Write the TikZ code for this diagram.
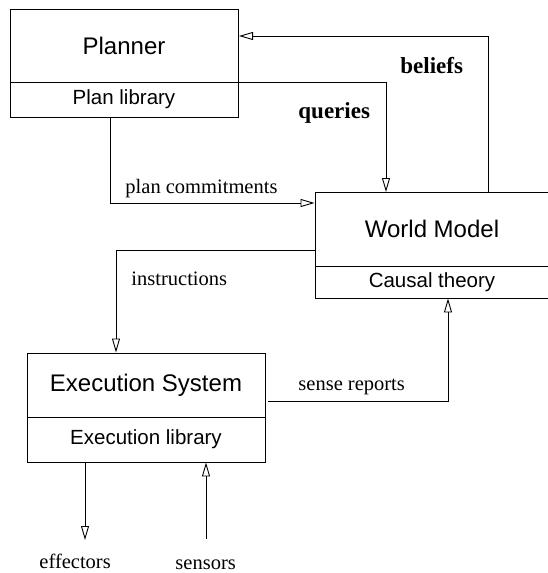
\documentclass[tikz,border=0pt]{standalone}
\usepackage{fontspec}
\setmainfont{Liberation Serif}
\setsansfont{Liberation Sans}
\usetikzlibrary{arrows.meta}
\begin{document}
\begin{tikzpicture}[x=1pt,y=-1pt,line width=0.9pt,
  part/.style={draw,rectangle,inner sep=0pt,font=\sffamily},
  head/.style={part,font=\sffamily\fontsize{24}{26}\selectfont},
  lib/.style={part,font=\sffamily\fontsize{20.5}{23}\selectfont},
  flow/.style={-{Triangle[open,length=14pt,width=8pt]}},
  lbl/.style={font=\fontsize{20.5}{23}\selectfont,inner sep=0pt},
  blbl/.style={font=\bfseries\fontsize{23}{26}\selectfont,inner sep=0pt}]
\useasboundingbox (0,0) rectangle (547,573);

% Planner
\node[head,minimum width=228pt,minimum height=73pt] (plan) at (124,45.5) {Planner};
\node[lib,minimum width=228pt,minimum height=35pt] (planlib) at (124,99.5) {Plan library};

% World model (runs past the right border)
\node[head,minimum width=234pt,minimum height=74pt] (wm) at (432,229) {World Model};
\node[lib,minimum width=234pt,minimum height=32pt] (wmlib) at (432,282) {Causal theory};

% Execution system
\node[head,minimum width=238pt,minimum height=64pt] (ex) at (146,385) {Execution System};
\node[lib,minimum width=238pt,minimum height=45pt] (exlib) at (146,439.5) {Execution library};

% Free ends
\coordinate (eff) at (85,540);
\coordinate (sen) at (206,539);

% Connectors
\draw[flow] (plan.south east) -| (386,192);
\draw[flow] (wm.north -| 488,0) |- (239,36);
\draw[flow] (planlib.south -| 110,0) |- (wm.west |- 0,203);
\draw[flow] (wm.west |- 0,250) -| (ex.north -| 116,0);
\draw[flow] (268,401) -| (wmlib.south -| 448,0);
\draw[flow] (exlib.south -| 85,0) -- (eff);
\draw[flow] (sen) -- (exlib.south -| 206,0);

% Labels
\node[blbl,anchor=base west] at (400,73) {beliefs};
\node[blbl,anchor=base west] at (298,118) {queries};
\node[lbl,anchor=base west] at (125,193) {plan commitments};
\node[lbl,anchor=base west] at (131,285) {instructions};
\node[lbl,anchor=base west] at (298,390) {sense reports};
\node[lbl,anchor=base west] at (39,568) {effectors};
\node[lbl,anchor=base west] at (175,569) {sensors};
\end{tikzpicture}
\end{document}
